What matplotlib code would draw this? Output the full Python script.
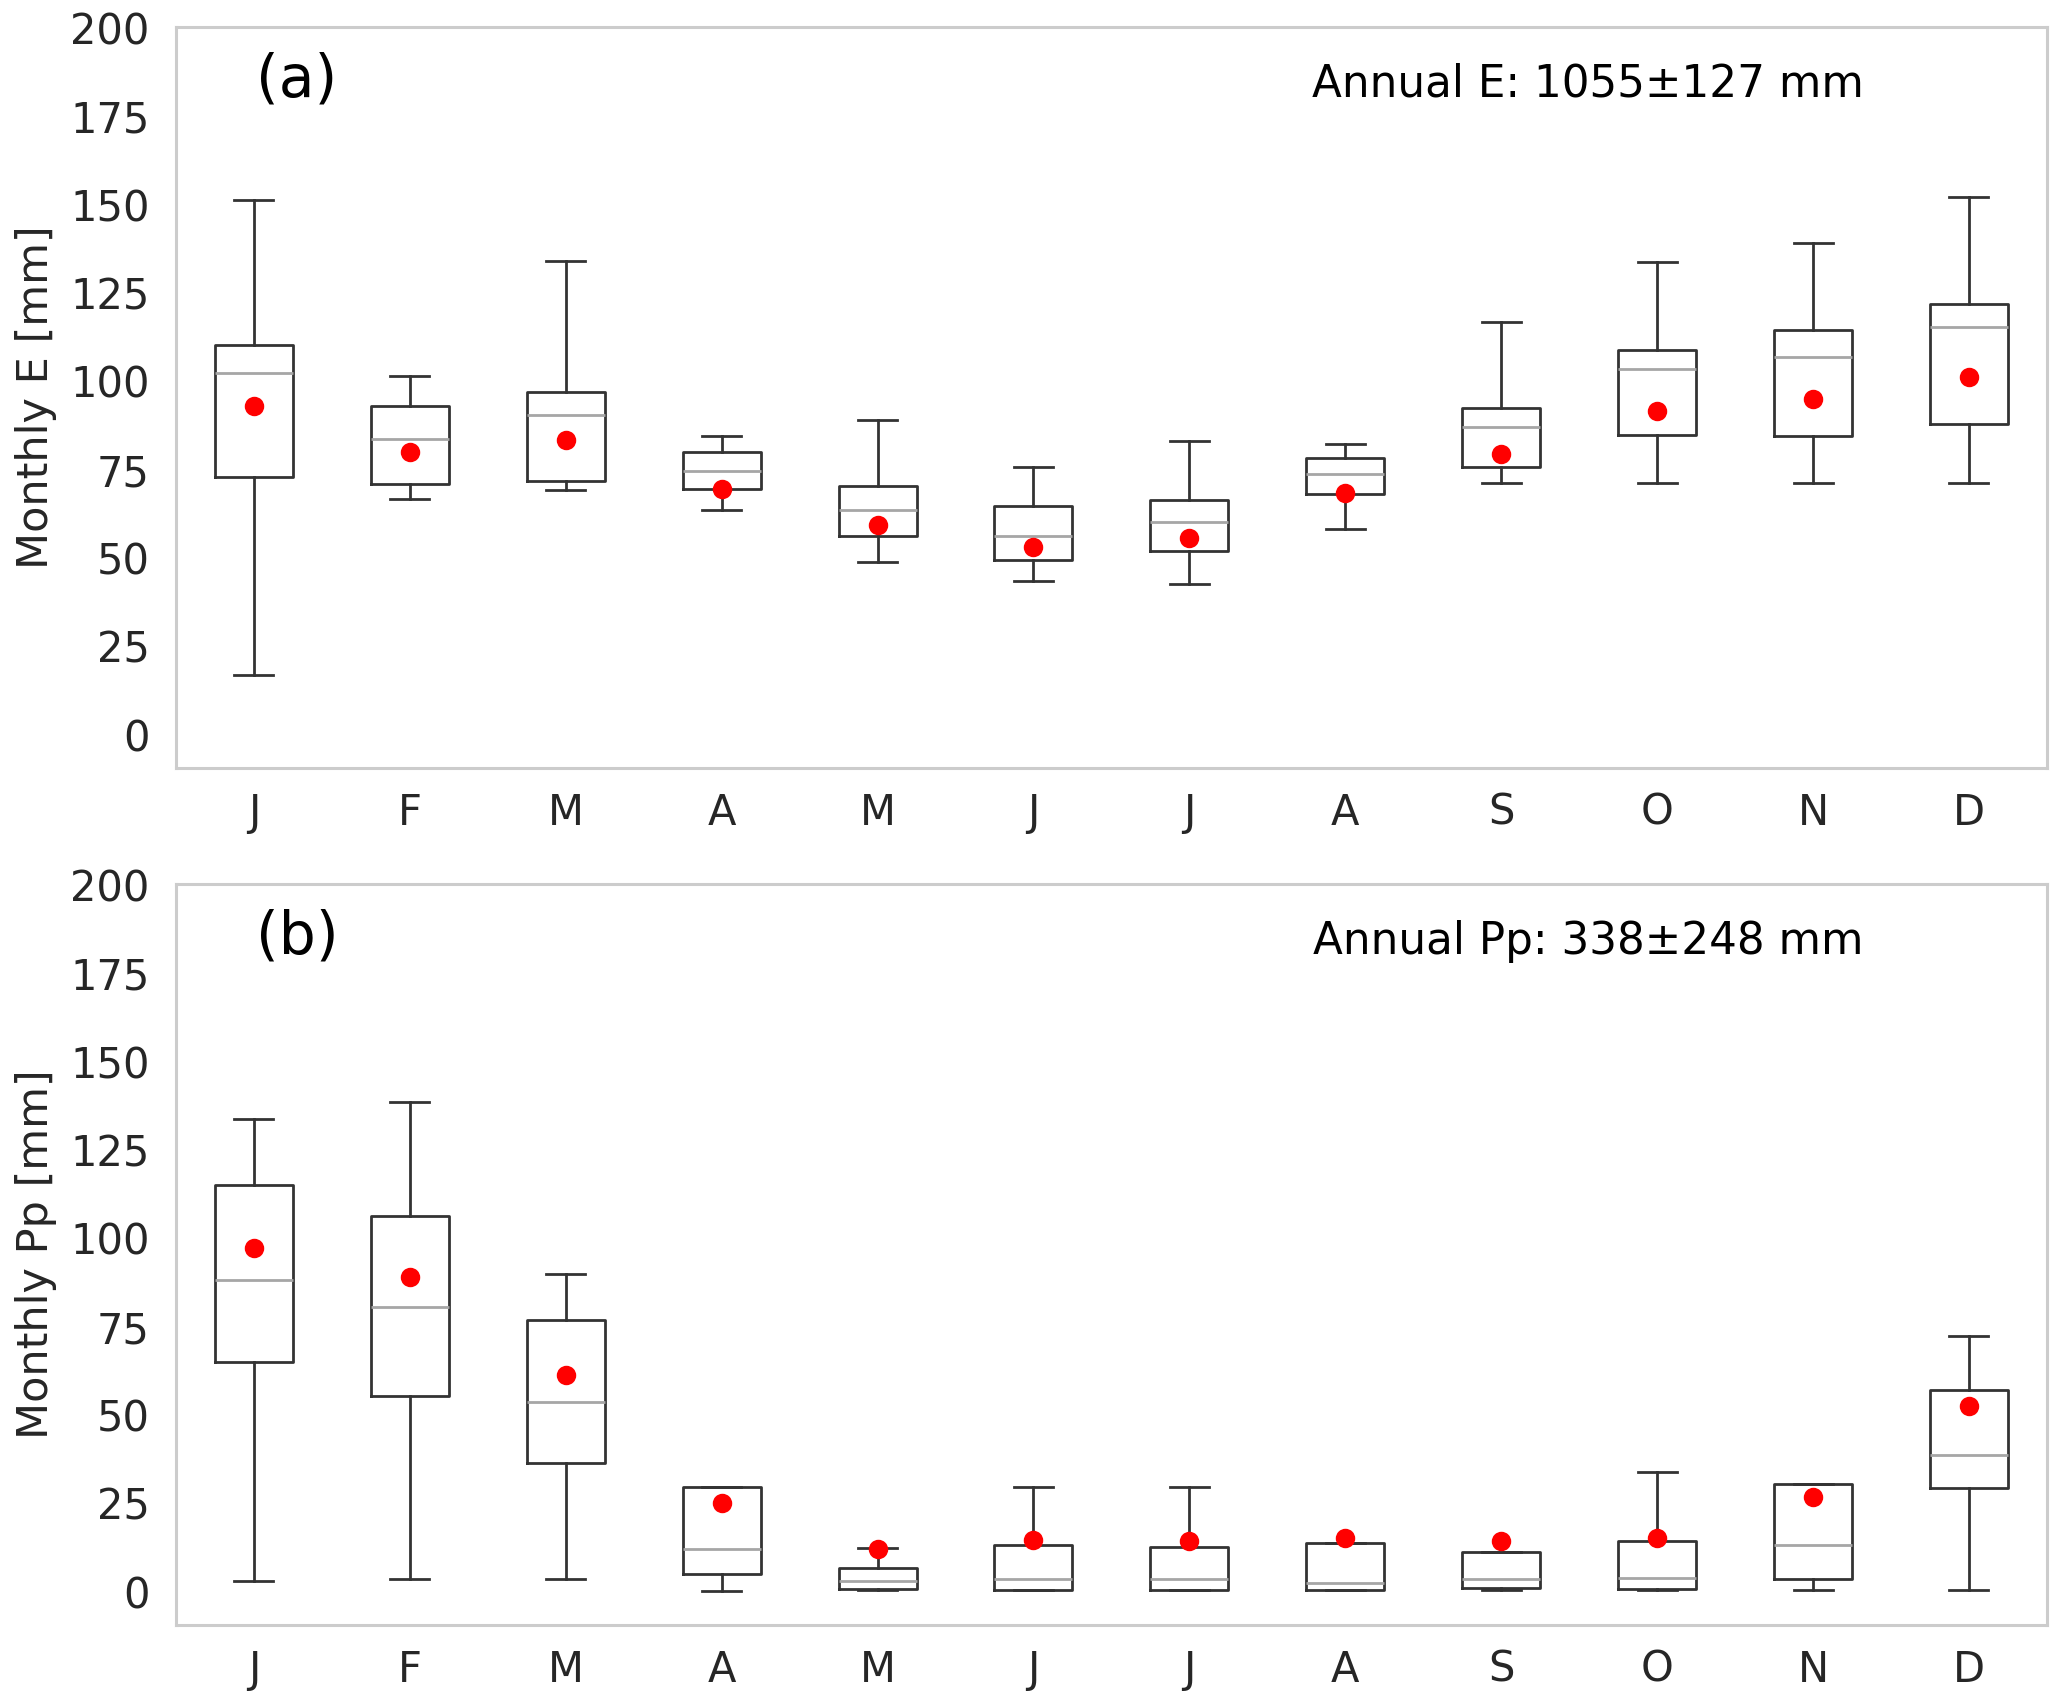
import matplotlib
matplotlib.use("Agg")
import matplotlib.pyplot as plt

months = ["J", "F", "M", "A", "M", "J", "J", "A", "S", "O", "N", "D"]

# Panel (a): monthly evaporation E [mm]
e_whislo = [17.0, 66.7, 69.3, 63.5, 48.8, 43.6, 42.7, 58.2, 71.3, 71.3, 71.3, 71.3]
e_q1     = [72.8, 71.0, 71.8, 69.5, 56.3, 49.5, 52.0, 68.2, 75.7, 84.9, 84.5, 87.8]
e_med    = [102.4, 83.6, 90.4, 74.7, 63.7, 56.2, 60.1, 73.9, 87.2, 103.4, 106.9, 115.4]
e_q3     = [110.3, 92.9, 96.9, 80.0, 70.3, 64.7, 66.3, 78.4, 92.4, 109.0, 114.4, 121.9]
e_whishi = [151.3, 101.4, 134.0, 84.5, 89.0, 75.7, 83.0, 82.2, 116.8, 133.7, 139.2, 152.1]
e_mean   = [92.9, 79.9, 83.5, 69.6, 59.3, 53.1, 55.6, 68.3, 79.4, 91.7, 94.9, 101.1]

# Panel (b): monthly precipitation Pp [mm]
p_whislo = [3.2, 3.7, 3.5, 0.3, 0.5, 0.5, 0.5, 0.5, 0.5, 0.5, 0.5, 0.5]
p_q1     = [65.1, 55.5, 36.5, 5.0, 0.9, 0.6, 0.6, 0.6, 1.1, 0.9, 3.7, 29.5]
p_med    = [88.1, 80.5, 53.8, 12.2, 3.2, 3.7, 3.7, 2.6, 3.5, 3.8, 13.2, 38.6]
p_q3     = [115.0, 106.3, 76.8, 29.7, 6.7, 13.2, 12.8, 13.8, 11.4, 14.4, 30.6, 57.2]
p_whishi = [133.7, 138.7, 89.9, 29.7, 12.3, 29.8, 29.7, 13.8, 11.4, 33.8, 30.6, 72.5]
p_mean   = [97.3, 89.1, 61.3, 25.2, 12.0, 14.6, 14.4, 15.1, 14.4, 15.2, 26.8, 52.5]

panel_labels = ["(a)", "(b)"]
annual_texts = ["Annual E: 1055\u00b1127 mm", "Annual Pp: 338\u00b1248 mm"]
ylabels = ["Monthly E [mm]", "Monthly Pp [mm]"]
yticks = [0, 25, 50, 75, 100, 125, 150, 175, 200]


def build_stats(lo, q1, med, q3, hi, mean):
    return [dict(whislo=a, q1=b, med=c, q3=d, whishi=e, mean=f, fliers=[])
            for a, b, c, d, e, f in zip(lo, q1, med, q3, hi, mean)]


datasets = [
    build_stats(e_whislo, e_q1, e_med, e_q3, e_whishi, e_mean),
    build_stats(p_whislo, p_q1, p_med, p_q3, p_whishi, p_mean),
]
means = [e_mean, p_mean]

fig = plt.figure(figsize=(10.335, 8.51), dpi=200)
axes_rects = [
    [0.0851, 0.5488, 0.9903 - 0.0851, 0.9844 - 0.5488],
    [0.0851, 0.0452, 0.9903 - 0.0851, 0.4809 - 0.0452],
]

text_col = "#262626"
for i, rect in enumerate(axes_rects):
    ax = fig.add_axes(rect)
    positions = list(range(1, len(months) + 1))
    ax.bxp(datasets[i], positions=positions, widths=0.5, showfliers=False,
           boxprops=dict(color="#333333", linewidth=1.0),
           whiskerprops=dict(color="#333333", linewidth=1.0),
           capprops=dict(color="#333333", linewidth=1.0),
           medianprops=dict(color="#a6a6a6", linewidth=1.0))
    ax.plot(positions, means[i], "o", color="red", markersize=6, zorder=5)
    ax.set_xlim(0.5, 12.5)
    ax.set_ylim(-9.4, 200.4)
    ax.set_yticks(yticks)
    ax.set_xticks(positions)
    ax.set_xticklabels(months)
    ax.tick_params(axis="y", length=0, pad=9.5, labelsize=15, colors=text_col)
    ax.tick_params(axis="x", length=0, pad=8.5, labelsize=15, colors=text_col)
    for s in ax.spines.values():
        s.set_color("#cccccc")
        s.set_linewidth(1.1)
    ax.grid(False)
    ax.set_ylabel(ylabels[i], fontsize=15.5, color=text_col, labelpad=4.8)
    ax.text(0.043, 0.905, panel_labels[i], transform=ax.transAxes,
            fontsize=21, ha="left", va="baseline", color="black")
    ax.text(0.902, 0.905, annual_texts[i], transform=ax.transAxes,
            fontsize=15.7, ha="right", va="baseline", color="black")

fig.savefig("out.png", dpi=200)
